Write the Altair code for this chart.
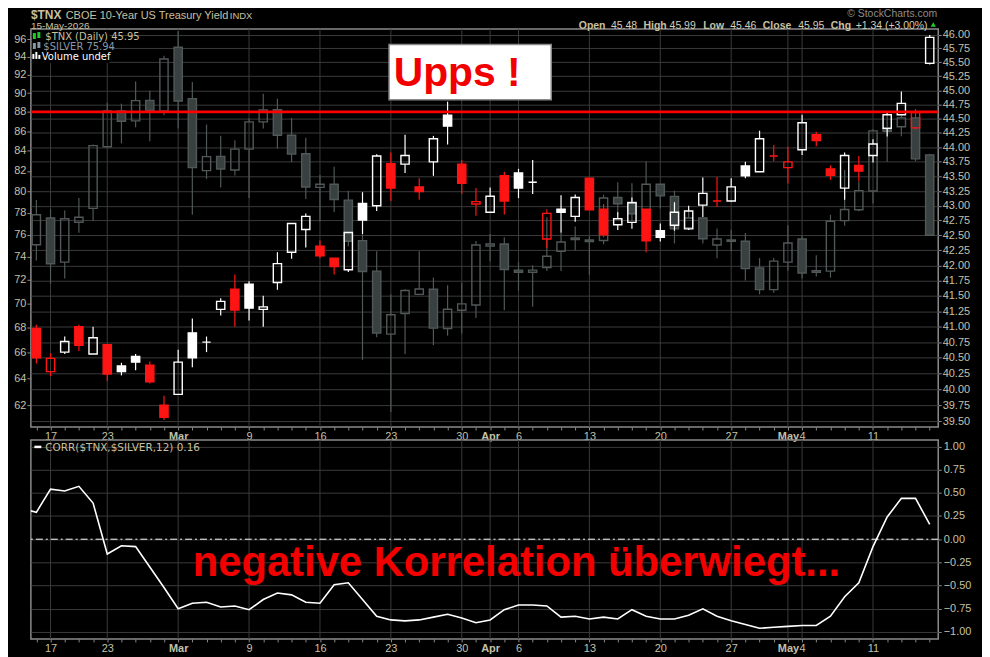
import altair as alt
import numpy as np
import pandas as pd

# trading days shown on the chart
days = [
    "2026-02-13", "2026-02-17", "2026-02-18", "2026-02-19", "2026-02-20",
    "2026-02-23", "2026-02-24", "2026-02-25", "2026-02-26", "2026-02-27",
    "2026-03-02", "2026-03-03", "2026-03-04", "2026-03-05", "2026-03-06",
    "2026-03-09", "2026-03-10", "2026-03-11", "2026-03-12", "2026-03-13",
    "2026-03-16", "2026-03-17", "2026-03-18", "2026-03-19", "2026-03-20",
    "2026-03-23", "2026-03-24", "2026-03-25", "2026-03-26", "2026-03-27",
    "2026-03-30", "2026-03-31", "2026-04-01", "2026-04-02",
    "2026-04-06", "2026-04-07", "2026-04-08", "2026-04-09", "2026-04-10",
    "2026-04-13", "2026-04-14", "2026-04-15", "2026-04-16", "2026-04-17",
    "2026-04-20", "2026-04-21", "2026-04-22", "2026-04-23", "2026-04-24",
    "2026-04-27", "2026-04-28", "2026-04-29", "2026-04-30", "2026-05-01",
    "2026-05-04", "2026-05-05", "2026-05-06", "2026-05-07", "2026-05-08",
    "2026-05-11", "2026-05-12", "2026-05-13", "2026-05-14", "2026-05-15",
]

tnx_open = [40.97, 40.28, 40.59, 41.00, 40.56, 40.71, 40.37, 40.52, 40.38, 39.75,
            39.92, 40.90, 40.75, 41.28, 41.61, 41.69, 41.28, 41.72, 42.22, 42.60,
            42.32, 42.12, 41.93, 43.04, 43.00, 43.72, 43.71, 43.32, 43.75, 44.56,
            43.71, 43.03, 42.89, 43.51, 43.56, 43.40, 42.44, 42.94, 42.82, 43.47,
            42.94, 42.68, 42.72, 42.94, 42.58, 42.67, 42.61, 43.01, 43.08, 43.08,
            43.68, 43.58, 43.85, 43.65, 43.96, 44.22, 43.63, 43.30, 43.69, 43.86,
            44.33, 44.57, 44.34, 45.48]
tnx_high = [41.03, 40.57, 40.84, 41.03, 41.00, 40.71, 40.42, 40.56, 40.44, 39.90,
            40.63, 41.13, 40.84, 41.46, 41.85, 41.74, 41.50, 42.22, 42.70, 42.87,
            42.42, 42.12, 42.55, 43.23, 43.88, 43.91, 44.22, 43.47, 44.20, 44.80,
            43.78, 43.30, 43.31, 43.58, 43.63, 43.78, 42.94, 43.18, 43.19, 43.48,
            43.03, 42.89, 43.14, 42.94, 42.70, 43.06, 43.00, 43.48, 43.49, 43.47,
            43.75, 44.29, 44.04, 44.01, 44.57, 44.27, 43.69, 43.91, 43.85, 44.14,
            44.63, 44.98, 44.66, 45.99]
tnx_low = [40.41, 40.21, 40.56, 40.61, 40.56, 40.13, 40.22, 40.30, 40.09, 39.52,
           39.91, 40.35, 40.59, 41.18, 41.00, 41.10, 41.00, 41.60, 42.11, 42.30,
           42.12, 41.85, 41.89, 42.52, 42.91, 43.08, 43.56, 43.10, 43.51, 44.05,
           43.20, 42.83, 42.89, 42.85, 43.13, 43.20, 42.29, 42.55, 42.73, 42.93,
           42.47, 42.59, 42.61, 42.22, 42.40, 42.58, 42.59, 42.81, 42.98, 43.07,
           43.47, 43.58, 43.76, 43.38, 43.87, 44.02, 43.44, 43.10, 43.42, 43.74,
           44.19, 44.57, 44.31, 45.46]
tnx_close = [40.50, 40.49, 40.76, 40.70, 40.82, 40.24, 40.28, 40.43, 40.12, 39.56,
             40.43, 40.50, 40.75, 41.41, 41.27, 41.30, 41.32, 42.03, 42.70, 42.82,
             42.16, 41.98, 42.55, 42.76, 43.85, 43.30, 43.86, 43.24, 44.15, 44.37,
             43.38, 43.07, 43.16, 43.08, 43.30, 43.40, 42.87, 42.89, 43.14, 42.93,
             42.51, 42.78, 43.05, 42.41, 42.47, 42.89, 42.91, 43.21, 43.08, 43.32,
             43.51, 44.15, 43.85, 43.75, 44.43, 44.12, 43.52, 43.86, 43.59, 44.06,
             44.57, 44.77, 44.61, 45.95]
tnx_prev_close = 40.62

silver_open = [75.09, 77.52, 73.55, 77.13, 78.42, 84.41, 88.10, 87.06, 89.22, 88.10,
               95.06, 89.40, 82.04, 83.45, 82.10, 84.17, 86.96, 88.23, 85.58, 83.71,
               80.41, 80.72, 79.20, 75.46, 72.76, 67.49, 69.17, 70.77, 71.20, 67.94,
               69.44, 69.88, 74.97, 75.15, 72.85, 72.66, 73.07, 74.50, 75.70, 75.52,
               75.47, 79.45, 79.00, 78.29, 80.72, 79.55, 76.63, 77.52, 75.06, 75.52,
               75.40, 73.04, 71.17, 73.55, 75.60, 72.80, 72.76, 77.28, 78.29, 80.07,
               86.34, 86.45, 87.37, 83.60]
silver_high = [79.22, 78.36, 78.23, 79.39, 84.65, 88.97, 88.87, 91.25, 90.25, 94.11,
               96.90, 91.19, 86.68, 85.53, 85.08, 87.30, 89.93, 89.40, 87.37, 85.33,
               81.61, 82.43, 80.10, 76.00, 74.50, 70.77, 71.20, 74.50, 72.20, 71.54,
               71.75, 75.42, 76.05, 75.76, 73.55, 73.28, 77.60, 76.27, 76.74, 75.85,
               79.71, 80.90, 80.80, 82.94, 80.72, 80.10, 78.40, 77.52, 76.55, 76.45,
               76.15, 73.90, 73.90, 76.85, 75.95, 74.15, 77.83, 82.10, 81.00, 86.20,
               87.99, 87.70, 88.30, 83.70]
silver_low = [73.68, 71.67, 72.12, 76.17, 77.28, 84.41, 84.75, 86.40, 84.98, 87.64,
              86.27, 77.83, 81.23, 80.40, 81.56, 79.40, 86.27, 84.24, 82.86, 79.30,
              77.20, 78.08, 74.96, 65.44, 67.23, 61.50, 65.90, 70.77, 66.60, 67.36,
              67.54, 68.79, 73.63, 69.44, 71.10, 69.72, 72.78, 72.76, 74.60, 72.45,
              75.13, 77.83, 77.23, 78.29, 78.40, 75.20, 76.45, 75.20, 73.88, 74.50,
              71.95, 70.77, 70.90, 72.80, 72.12, 72.30, 72.20, 76.80, 78.15, 78.88,
              82.92, 85.48, 82.98, 75.90]
silver_close = [77.83, 73.40, 77.46, 77.59, 84.52, 88.10, 87.02, 89.19, 88.16, 93.74,
                89.15, 82.33, 83.42, 82.20, 84.17, 86.96, 88.20, 85.58, 83.67, 80.45,
                80.72, 79.26, 75.40, 72.73, 67.57, 69.07, 71.10, 71.22, 67.97, 69.52,
                69.97, 75.07, 75.15, 72.90, 72.66, 72.85, 74.07, 75.33, 75.55, 75.37,
                79.40, 78.86, 77.92, 80.72, 79.60, 76.53, 77.52, 75.63, 75.60, 75.40,
                72.98, 71.17, 73.63, 75.25, 72.60, 72.65, 77.23, 78.32, 80.10, 86.03,
                85.99, 87.37, 83.20, 75.94]

# CORR($TNX,$SILVER,12), first value is the day before the visible range
corr_vals = [0.33, 0.29, 0.54, 0.52, 0.57, 0.39, -0.16, -0.07, -0.08, -0.30,
             -0.52, -0.75, -0.69, -0.68, -0.73, -0.72, -0.76, -0.65, -0.58, -0.60,
             -0.68, -0.69, -0.49, -0.47, -0.65, -0.83, -0.87, -0.88, -0.87, -0.84,
             -0.81, -0.85, -0.90, -0.87, -0.76, -0.71, -0.71, -0.72, -0.84, -0.83,
             -0.86, -0.84, -0.86, -0.76, -0.83, -0.86, -0.86, -0.82, -0.75, -0.83,
             -0.88, -0.92, -0.96, -0.95, -0.94, -0.93, -0.93, -0.83, -0.62, -0.47,
             -0.08, 0.24, 0.44, 0.44, 0.16]

tick_idx = [1, 5, 10, 15, 20, 25, 30, 32, 34, 39, 44, 49, 53, 54, 59]
tick_text = ["17", "23", "Mar", "9", "16", "23", "30", "Apr", "6", "13", "20", "27", "May", "4", "11"]
month_idx = [10, 32, 53]

tnx_ticks = [39.50, 39.75, 40.00, 40.25, 40.50, 40.75, 41.00, 41.25, 41.50, 41.75,
             42.00, 42.25, 42.50, 42.75, 43.00, 43.25, 43.50, 43.75, 44.00, 44.25,
             44.50, 44.75, 45.00, 45.25, 45.50, 45.75, 46.00]
silver_ticks = [62, 64, 66, 68, 70, 72, 74, 76, 78, 80, 82, 84, 86, 88, 90, 92, 94, 96]
corr_ticks = [-1.0, -0.75, -0.5, -0.25, 0.0, 0.25, 0.5, 0.75, 1.0]
red_level = [44.62]

TXT = "#c8c0a0"
GRID = "#3a3a3a"
RED = "#ff1414"
S_LINE = "#505858"
S_FILL = "#384040"
FONT = "Liberation Sans"

n = len(days)
idx = list(range(n))

tnx = pd.DataFrame({"i": idx, "day": days, "open": tnx_open, "high": tnx_high,
                    "low": tnx_low, "close": tnx_close})
tnx["prev"] = tnx["close"].shift(1).fillna(tnx_prev_close)
tnx["col"] = np.where(tnx["close"] < tnx["prev"], RED, "white")
tnx["fill"] = np.where(tnx["close"] < tnx["open"], tnx["col"], "transparent")

silver = pd.DataFrame({"i": idx, "day": days, "open": silver_open, "high": silver_high,
                       "low": silver_low, "close": silver_close})
silver["col"] = S_LINE
silver["fill"] = np.where(silver["close"] < silver["open"], S_FILL, "transparent")

for df in (tnx, silver):
    df["top"] = df[["open", "close"]].max(axis=1)
    df["bot"] = df[["open", "close"]].min(axis=1)
    df["x1"] = df["i"] - 0.29
    df["x2"] = df["i"] + 0.29

corr = pd.DataFrame({"i": list(range(-1, n)), "corr": corr_vals})
ticks_df = pd.DataFrame({"i": tick_idx})
one = pd.DataFrame({"k": [0]})

xs = alt.Scale(domain=[-0.386, 63.6], nice=False, zero=False)
idx_s = ",".join(str(v) for v in tick_idx)
txt_s = ",".join("'" + t + "'" for t in tick_text)
label_expr = f"indexof([{idx_s}], datum.value) >= 0 ? [{txt_s}][indexof([{idx_s}], datum.value)] : ''"
month_s = ",".join(str(v) for v in month_idx)

x_axis = alt.Axis(
    values=idx, labelExpr=label_expr, labelOverlap=False, labelFlush=False,
    tickSize=3, labelPadding=1, grid=False, title=None, orient="bottom",
    labelFontWeight={"condition": {"test": f"indexof([{month_s}], datum.value) >= 0",
                                   "value": "bold"}, "value": "normal"},
)

ys_tnx = alt.Scale(type="log", domain=[39.41, 46.10], nice=False, zero=False)
ys_sil = alt.Scale(type="log", domain=[60.4, 97.15], nice=False, zero=False)
ys_cor = alt.Scale(domain=[-1.075, 1.07], nice=False, zero=False)

ya_tnx = alt.Axis(orient="right", values=tnx_ticks, format=".2f", grid=True, tickSize=3,
                  labelPadding=1, title=None, labelOverlap=False)
ya_sil = alt.Axis(orient="left", values=silver_ticks, format="d", grid=False, tickSize=4,
                  labelPadding=1, title=None, labelOverlap=False, minExtent=24, maxExtent=24)
ya_cor = alt.Axis(orient="right", values=corr_ticks, format=".2f", grid=True, tickSize=3,
                  labelPadding=2, title=None, labelOverlap=False)


def candles(df, ys, ya, extra=None):
    base = alt.Chart(df)
    xc = alt.X("i:Q", scale=xs, axis=x_axis)
    hi = base.mark_rule(strokeWidth=1.2).encode(
        x=xc, y=alt.Y("high:Q", scale=ys, axis=ya), y2="top",
        color=alt.Color("col:N", scale=None))
    lo = base.mark_rule(strokeWidth=1.2).encode(
        x=xc, y=alt.Y("bot:Q", scale=ys, axis=ya), y2="low",
        color=alt.Color("col:N", scale=None))
    body = base.mark_rect(strokeWidth=1.4).encode(
        x=alt.X("x1:Q", scale=xs, axis=x_axis), x2="x2",
        y=alt.Y("top:Q", scale=ys, axis=ya), y2="bot",
        fill=alt.Fill("fill:N", scale=None),
        stroke=alt.Stroke("col:N", scale=None),
        tooltip=["day:N", "open:Q", "high:Q", "low:Q", "close:Q"])
    layers = [hi, lo, body]
    if extra is not None:
        layers.append(extra)
    return alt.layer(*layers)


def label(s, x, y, size=11, color=TXT, weight="normal", font=FONT, align="left"):
    return alt.Chart(one).mark_text(
        text=s, align=align, baseline="alphabetic", fontSize=size,
        fontWeight=weight, font=font, color=color,
    ).encode(x=alt.value(x), y=alt.value(y))


def box(x, x2, y, y2, fill, stroke=None, sw=0):
    kw = {"fill": fill, "strokeWidth": sw}
    if stroke:
        kw["stroke"] = stroke
    return alt.Chart(one).mark_rect(**kw).encode(
        x=alt.value(x), x2=alt.value(x2), y=alt.value(y), y2=alt.value(y2))


vgrid = alt.Chart(ticks_df).mark_rule(color=GRID, strokeWidth=1).encode(
    x=alt.X("i:Q", scale=xs, axis=x_axis))

red_line = alt.Chart(pd.DataFrame({"v": red_level})).mark_rule(
    color="#ff0000", strokeWidth=3).encode(y=alt.Y("v:Q", scale=ys_tnx, axis=ya_tnx))

silver_layer = candles(silver, ys_sil, ya_sil)
tnx_layer = candles(tnx, ys_tnx, ya_tnx, extra=red_line)

# header and legends
header = [
    label("$TNX", 0, -10.5, size=12, weight="bold"),
    label("CBOE 10-Year US Treasury Yield", 35, -10.5, size=11),
    label("INDX", 200, -10.5, size=9.5),
    label("15-May-2026", 0, 0, size=10),
    label("\u00a9 StockCharts.com", 911, -12, size=10.5, color="#8c8c8c", align="right"),
]
ohlc = [("Open", 550.7, "bold"), ("45.48", 583, "normal"), ("High", 615.7, "bold"),
        ("45.99", 642, "normal"), ("Low", 675.7, "bold"), ("45.46", 703, "normal"),
        ("Close", 735.7, "bold"), ("45.95", 771.3, "normal"), ("Chg", 804, "bold"),
        ("+1.34 (+3.00%)", 829, "normal")]
for s, x, w in ohlc:
    header.append(label(s, x, -0.5, size=10.5, weight=w,
                        color=TXT if w == "bold" else "#d4d0bc"))
tri = alt.Chart(one).mark_point(shape="triangle-up", filled=True, color="#22cc22",
                                size=28, opacity=1).encode(x=alt.value(907), y=alt.value(-4.5))

legend_main = [
    box(1.5, 79, 1.5, 34, "black"),
    box(2, 5, 4, 10, "#22cc22"), box(6.5, 9.5, 3, 9, "#22cc22"),
    box(2, 5, 14, 20, "#8898a8"), box(6.5, 9.5, 13, 19, "#8898a8"),
    box(1.5, 3.5, 25, 30, "white"), box(4.5, 6.5, 23, 30, "white"), box(7.5, 9.5, 26, 30, "white"),
    label("$TNX (Daily) 45.95", 14.5, 11, size=10, font="DejaVu Sans"),
    label("$SILVER 75.94", 12.5, 21, size=10, color="#8898a8", font="DejaVu Sans"),
    label("Volume undef", 11, 31, size=10, color="white", font="DejaVu Sans"),
]

upps = [
    box(360, 523, 15.5, 71, "white", stroke="#8a8a8a", sw=1.5),
    label("Upps !", 428.5, 57.5, size=41, color="#f20000", weight="bold", align="center"),
]

main = alt.layer(
    vgrid, silver_layer, tnx_layer, *legend_main, *upps, *header, tri,
).resolve_scale(y="independent").properties(width=912, height=400)

# lower panel: correlation
zero = alt.Chart(pd.DataFrame({"z": [0.0]})).mark_rule(
    color="white", strokeWidth=1, strokeDash=[7, 3, 2, 3]).encode(
    y=alt.Y("z:Q", scale=ys_cor, axis=ya_cor))
corr_line = alt.Chart(corr).mark_line(color="white", strokeWidth=1.6, clip=True).encode(
    x=alt.X("i:Q", scale=xs, axis=x_axis),
    y=alt.Y("corr:Q", scale=ys_cor, axis=ya_cor))
legend_low = [
    alt.Chart(one).mark_rule(color="white", strokeWidth=2.5).encode(
        x=alt.value(3.5), x2=alt.value(10.5), y=alt.value(7)),
    label("CORR($TNX,$SILVER,12) 0.16", 14.5, 11.5, size=10.5, font="DejaVu Sans"),
    label("negative Korrelation \u00fcberwiegt...", 488, 137, size=42, color="#f20000",
          weight="bold", align="center"),
]

lower = alt.layer(vgrid, zero, corr_line, *legend_low).properties(width=912, height=200)

chart = alt.vconcat(main, lower, spacing=13, bounds="flush").properties(
    padding={"left": -2, "top": -2.5, "right": 10, "bottom": 0}
).configure(background="black").configure_view(
    stroke="#8a8a8a", strokeWidth=1.5
).configure_axis(
    labelFont=FONT, labelFontSize=11, labelColor="#c4c0a8", tickColor="#8a8a8a",
    tickWidth=1, domain=False, gridColor=GRID, gridWidth=1,
)

chart.save("out.html", embed_options={"renderer": "svg", "actions": False})
